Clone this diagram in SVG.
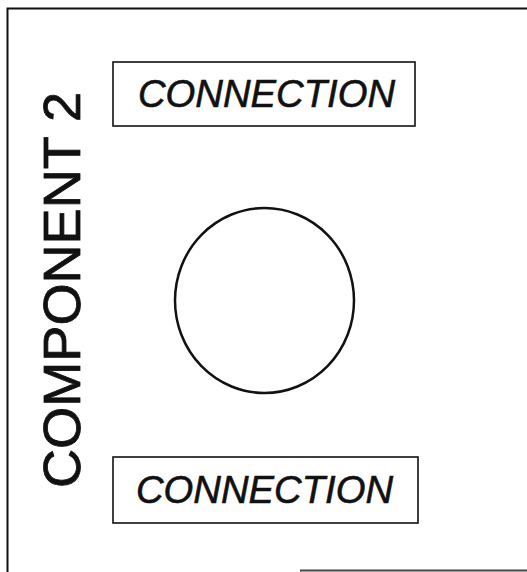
<svg xmlns="http://www.w3.org/2000/svg" width="527" height="572" viewBox="0 0 527 572">
<style>
.box{fill:none;stroke:#111;stroke-width:1.6}
.lbl{font-family:"Liberation Sans",Arial,sans-serif;font-style:italic;font-size:39px;fill:#111;stroke:#111;stroke-width:0.6}
.side{font-family:"Liberation Sans",Arial,sans-serif;font-size:52px;fill:#111;stroke:#111;stroke-width:0.8}
</style>
<rect width="527" height="572" fill="#fff"/>
<g id="component2">
<path d="M7.5 572 V8.5 H527" fill="none" stroke="#111" stroke-width="2"/>
<line x1="300" y1="570.5" x2="527" y2="570.5" stroke="#444" stroke-width="2"/>
<text class="side" transform="translate(80,488) rotate(-90)" textLength="396" lengthAdjust="spacingAndGlyphs">COMPONENT 2</text>
</g>
<g id="connection-top">
<rect class="box" x="113" y="62" width="302" height="64"/>
<text class="lbl" x="138" y="107" textLength="257" lengthAdjust="spacingAndGlyphs">CONNECTION</text>
</g>
<g id="connection-bottom">
<rect class="box" x="113" y="457" width="305" height="66"/>
<text class="lbl" x="136" y="503" textLength="257" lengthAdjust="spacingAndGlyphs">CONNECTION</text>
</g>
<g id="circle">
<ellipse cx="264.5" cy="300.5" rx="89.5" ry="92.5" fill="none" stroke="#111" stroke-width="2.5"/>
</g>
<g id="connectors"></g>
</svg>
